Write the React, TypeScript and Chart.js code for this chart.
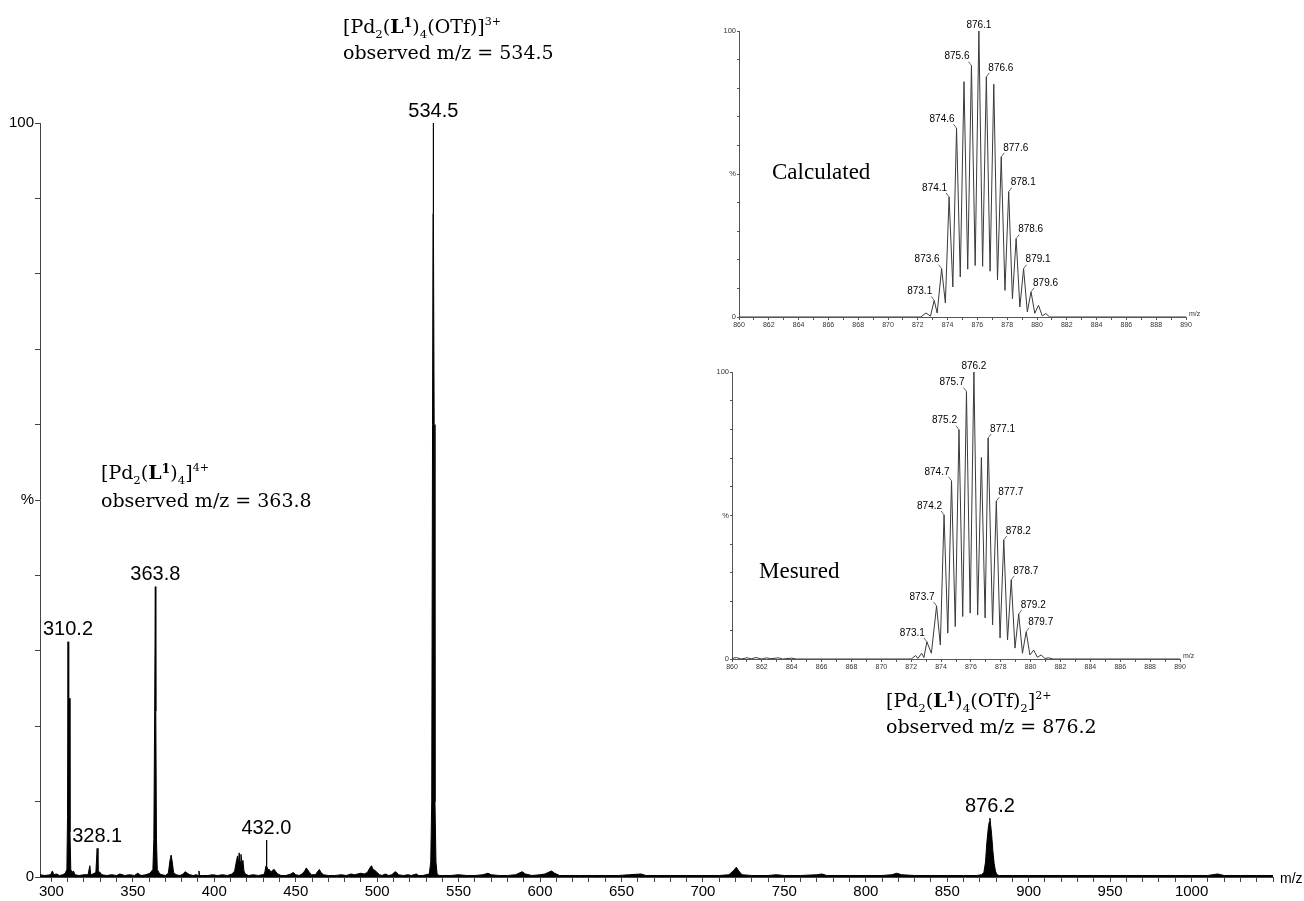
import React, { useEffect, useRef } from 'react';
import { Chart, registerables } from 'chart.js';

Chart.register(...registerables);
Chart.defaults.font.family = '"Liberation Sans", Arial, sans-serif';

// ---------------- main spectrum ----------------
const mainMz = [
  293, 296, 299.5, 300.6, 301.5, 303, 305, 307, 308.5, 309.5,
  309.9, 310.2, 310.45, 310.8, 311.05, 311.4, 311.9, 312.6, 313.5, 314.5,
  317, 320, 322.5, 323.6, 324.2, 325.5, 327.3, 328.1, 328.6, 329.5,
  331, 334, 337, 340, 342, 345, 348, 351, 353, 355,
  358, 360.5, 362.3, 362.9, 363.4, 363.8, 364.1, 364.5, 365, 366.5,
  368, 370, 371.8, 372.8, 373.5, 374.2, 375, 376.5, 379, 381,
  382, 383.5, 385, 387, 389, 390.2, 390.6, 391, 393, 396,
  399, 402, 405, 408, 411, 412.5, 413.5, 414.3, 414.8, 415.3,
  415.8, 416.4, 417, 417.6, 418.2, 419, 421, 424, 427, 429.5,
  430.8, 431.8, 432.0, 432.3, 432.8, 433.8, 434.8, 435.8, 436.8, 437.8,
  439, 441, 444, 447, 448.5, 450, 452, 454, 455.5, 456.5,
  457.5, 458.5, 459.5, 462, 464.5, 465.5, 467, 470, 474, 478,
  481, 484, 486, 488, 490, 492, 494, 495.5, 496.5, 497.5,
  498.5, 500, 501.5, 503, 505, 507, 509, 511, 512, 513,
  516, 519, 521, 524, 525.5, 528, 530, 532, 532.9, 533.5,
  534.0, 534.3, 534.45, 534.6, 535.0, 535.5, 536.1, 536.8, 538, 540,
  545, 550, 555, 560, 565, 568, 570, 575, 580, 585,
  589, 591, 595, 600, 603, 605, 607, 609, 612, 618,
  625, 632, 640, 648, 655, 662, 665, 672, 680, 690,
  700, 710, 716, 719, 720.5, 722, 724, 730, 740, 745,
  750, 760, 770, 773, 776, 790, 800, 810, 816, 819,
  822, 830, 840, 850, 860, 868, 871, 872.5, 873.5, 874.3,
  875.2, 875.8, 876.2, 876.6, 877.2, 878, 878.8, 879.6, 880.5, 882,
  890, 900, 910, 920, 930, 940, 950, 960, 970, 980,
  990, 1000, 1010, 1016, 1020, 1030, 1040, 1050,
];
const mainIntensity = [
  0.3, 0.2, 0.3, 0.8, 0.3, 0.4, 0.2, 0.3, 0.5, 1,
  8, 31.2, 10, 20, 23.7, 6, 1, 0.6, 0.8, 0.3,
  0.2, 0.3, 0.3, 1.5, 0.3, 0.4, 0.6, 3.8, 0.5, 0.7,
  0.3, 0.2, 0.3, 0.2, 0.4, 0.2, 0.3, 0.2, 0.5, 0.2,
  0.3, 0.5, 1, 5, 22, 38.5, 22, 5, 1, 0.4,
  0.3, 0.2, 0.5, 2.2, 2.9, 2.0, 0.6, 0.3, 0.2, 0.4,
  0.7, 0.5, 0.3, 0.2, 0.3, 0.2, 0.8, 0.2, 0.2, 0.2,
  0.3, 0.2, 0.3, 0.2, 0.4, 0.8, 2.0, 2.8, 1.6, 3.2,
  2.0, 3.0, 1.5, 2.2, 0.8, 0.4, 0.2, 0.3, 0.2, 0.3,
  0.4, 1.5, 4.9, 1.5, 1.0, 1.0, 0.6, 0.9, 1.0, 0.7,
  0.4, 0.2, 0.2, 0.4, 0.6, 0.3, 0.2, 0.4, 0.8, 1.2,
  0.9, 0.6, 0.3, 0.3, 1.0, 0.6, 0.3, 0.2, 0.2, 0.3,
  0.2, 0.4, 0.3, 0.4, 0.5, 0.4, 0.6, 1.2, 1.5, 1.0,
  0.9, 0.6, 0.3, 0.2, 0.4, 0.2, 0.3, 0.7, 0.6, 0.3,
  0.2, 0.3, 0.2, 0.4, 0.2, 0.2, 0.3, 0.4, 2, 10,
  60, 88, 100, 88, 60, 10, 2, 0.4, 0.2, 0.2,
  0.2, 0.3, 0.2, 0.2, 0.3, 0.5, 0.3, 0.2, 0.2, 0.3,
  0.7, 0.4, 0.2, 0.3, 0.4, 0.6, 0.8, 0.5, 0.2, 0.2,
  0.2, 0.2, 0.2, 0.2, 0.3, 0.4, 0.2, 0.2, 0.2, 0.2,
  0.2, 0.2, 0.3, 0.9, 1.3, 0.8, 0.3, 0.2, 0.2, 0.3,
  0.2, 0.2, 0.3, 0.4, 0.2, 0.2, 0.2, 0.2, 0.3, 0.5,
  0.3, 0.2, 0.2, 0.2, 0.2, 0.2, 0.3, 0.6, 2, 4.5,
  6.5, 7.3, 7.8, 7.0, 5.8, 3.5, 1.8, 0.8, 0.3, 0.2,
  0.2, 0.2, 0.2, 0.2, 0.2, 0.2, 0.2, 0.2, 0.2, 0.2,
  0.2, 0.2, 0.2, 0.4, 0.2, 0.2, 0.2, 0.2,
];
const mainPeakLabels = [310.2, 328.1, 363.8, 432.0, 534.5, 876.2];
const mainXTickLabels = [300, 350, 400, 450, 500, 550, 600, 650, 700, 750, 800, 850, 900, 950, 1000];
const mainXMin = 293;
const mainXMax = 1050;

// ---------------- calculated isotope pattern ----------------
const calcMz = [
  860, 872.2, 872.55, 872.85, 873.1, 873.3, 873.6, 873.85, 874.1, 874.35,
  874.6, 874.85, 875.1, 875.35, 875.6, 875.85, 876.1, 876.35, 876.6, 876.85,
  877.1, 877.35, 877.6, 877.85, 878.1, 878.35, 878.6, 878.85, 879.1, 879.35,
  879.6, 879.85, 880.1, 880.35, 880.6, 880.85, 890,
];
const calcIntensity = [
  0, 0, 1.4, 0.3, 5.8, 1.4, 16.9, 4.9, 42, 10.5,
  66, 14, 82.3, 16.7, 87.9, 18, 100, 17.7, 84, 16,
  81.4, 13, 56, 9.3, 43.8, 6.4, 27.4, 3.5, 16.9, 1.8,
  8.8, 1.3, 4.1, 0.4, 1.2, 0, 0,
];
const calcPeakLabels = [873.1, 873.6, 874.1, 874.6, 875.6, 876.1, 876.6, 877.6, 878.1, 878.6, 879.1, 879.6];

// ---------------- measured isotope pattern ----------------
const measMz = [
  860, 860.3, 860.6, 861, 861.3, 861.6, 862, 862.3, 862.6, 863.1,
  863.4, 864, 864.3, 872, 872.3, 872.45, 872.7, 872.85, 873.05, 873.35,
  873.7, 873.95, 874.2, 874.45, 874.7, 874.95, 875.2, 875.45, 875.7, 875.95,
  876.2, 876.45, 876.7, 876.95, 877.15, 877.45, 877.7, 877.95, 878.2, 878.45,
  878.7, 878.95, 879.2, 879.45, 879.7, 879.95, 880.2, 880.45, 880.7, 880.95,
  881.2, 881.5, 890,
];
const measIntensity = [
  0.2, 0.5, 0, 0.4, 0.1, 0.5, 0, 0.4, 0.1, 0.4,
  0, 0.3, 0, 0, 1.2, 0.2, 2.0, 0.5, 6.0, 2.0,
  18.5, 4.9, 50.2, 9, 62.1, 11.3, 79.9, 14.8, 93.2, 16,
  100, 15.3, 70.2, 14.3, 77, 11.9, 55, 7.3, 41.5, 6.6,
  27.6, 3.8, 15.7, 2, 9.5, 1.4, 3.1, 0.6, 1.4, 0.2,
  0.4, 0, 0,
];
const measPeakLabels = [873.1, 873.7, 874.2, 874.7, 875.2, 875.7, 876.2, 877.1, 877.7, 878.2, 878.7, 879.2, 879.7];
const insetXTickLabels = [860, 862, 864, 866, 868, 870, 872, 874, 876, 878, 880, 882, 884, 886, 888, 890];

// ---------------- annotations ----------------
type Seg = [string, 'n' | 'sub' | 'sup' | 'b' | 'bsup'];
const formula534: Seg[] = [['[Pd', 'n'], ['2', 'sub'], ['(', 'n'], ['L', 'b'], ['1', 'bsup'], [')', 'n'], ['4', 'sub'], ['(OTf)]', 'n'], ['3+', 'sup']];
const formula363: Seg[] = [['[Pd', 'n'], ['2', 'sub'], ['(', 'n'], ['L', 'b'], ['1', 'bsup'], [')', 'n'], ['4', 'sub'], [']', 'n'], ['4+', 'sup']];
const formula876: Seg[] = [['[Pd', 'n'], ['2', 'sub'], ['(', 'n'], ['L', 'b'], ['1', 'bsup'], [')', 'n'], ['4', 'sub'], ['(OTf)', 'n'], ['2', 'sub'], [']', 'n'], ['2+', 'sup']];
const observed534 = 'observed m/z = 534.5';
const observed363 = 'observed m/z = 363.8';
const observed876 = 'observed m/z = 876.2';

const SANS = '"Liberation Sans", Arial, sans-serif';
const SERIF = '"DejaVu Serif", serif';
const TIMES = '"Liberation Serif", "Times New Roman", serif';

function drawFormula(ctx: CanvasRenderingContext2D, segs: Seg[], x: number, y: number, size: number) {
  let cx = x;
  ctx.textAlign = 'left';
  ctx.textBaseline = 'alphabetic';
  for (const [t, s] of segs) {
    let f = size;
    let dy = 0;
    let w = '';
    if (s === 'sub') { f = size * 0.62; dy = size * 0.25; }
    if (s === 'sup') { f = size * 0.58; dy = -size * 0.42; }
    if (s === 'b') { w = 'bold '; }
    if (s === 'bsup') { w = 'bold '; f = size * 0.66; dy = -size * 0.3; }
    ctx.font = `${w}${f}px ${SERIF}`;
    ctx.fillText(t, cx, y + dy);
    cx += ctx.measureText(t).width;
  }
}

function peakNear(mz: number[], it: number[], target: number, win: number) {
  let best = -1;
  let bm = target;
  mz.forEach((m, i) => {
    if (Math.abs(m - target) <= win && it[i] > best) { best = it[i]; bm = m; }
  });
  return { m: bm, v: Math.max(best, 0) };
}

const mainDecor = {
  id: 'mainDecor',
  afterDatasetsDraw(chart: any) {
    const { ctx, chartArea } = chart;
    const xs = chart.scales.x;
    const ys = chart.scales.y;
    ctx.save();
    ctx.fillStyle = '#000';
    ctx.font = `20px ${SANS}`;
    ctx.textAlign = 'center';
    ctx.textBaseline = 'middle';
    mainPeakLabels.forEach((l) => {
      const p = peakNear(mainMz, mainIntensity, l, 0.5);
      ctx.fillText(l.toFixed(1), xs.getPixelForValue(l), ys.getPixelForValue(p.v) - 12);
    });
    ctx.font = `14px ${SANS}`;
    ctx.textAlign = 'left';
    ctx.fillText('m/z', chartArea.right + 7, chartArea.bottom + 2);

    const fs = 19;
    drawFormula(ctx, formula534, 343, 33, fs);
    ctx.font = `${fs}px ${SERIF}`;
    ctx.fillText(observed534, 343, 59);
    drawFormula(ctx, formula363, 101, 479, fs);
    ctx.font = `${fs}px ${SERIF}`;
    ctx.fillText(observed363, 101, 507);
    drawFormula(ctx, formula876, 886, 707, fs);
    ctx.font = `${fs}px ${SERIF}`;
    ctx.fillText(observed876, 886, 733);
    ctx.restore();
  },
};

function makeInsetDecor(mz: number[], it: number[], labels: number[], title: string, tx: number, ty: number) {
  return {
    id: 'insetDecor',
    afterDatasetsDraw(chart: any) {
      const { ctx, chartArea } = chart;
      const xs = chart.scales.x;
      const ys = chart.scales.y;
      ctx.save();
      const peaks = labels.map((l) => peakNear(mz, it, l, 0.15));
      let topK = 0;
      peaks.forEach((p, k) => { if (p.v > peaks[topK].v) topK = k; });
      ctx.font = `10px ${SANS}`;
      ctx.fillStyle = '#000';
      ctx.strokeStyle = '#444';
      ctx.lineWidth = 0.8;
      labels.forEach((l, k) => {
        const px = xs.getPixelForValue(peaks[k].m);
        const py = ys.getPixelForValue(peaks[k].v);
        const txt = l.toFixed(1);
        if (k === topK) {
          ctx.textAlign = 'center';
          ctx.textBaseline = 'bottom';
          ctx.fillText(txt, px, py - 1);
          return;
        }
        const dir = k < topK ? -1 : 1;
        ctx.textAlign = dir < 0 ? 'right' : 'left';
        ctx.textBaseline = 'middle';
        ctx.fillText(txt, px + dir * 2, py - 9);
        ctx.beginPath();
        ctx.moveTo(px + dir * 3, py - 4);
        ctx.lineTo(px, py);
        ctx.stroke();
      });
      ctx.font = `7px ${SANS}`;
      ctx.textAlign = 'left';
      ctx.textBaseline = 'bottom';
      ctx.fillStyle = '#333';
      ctx.fillText('m/z', chartArea.right + 3, chartArea.bottom + 1);
      ctx.font = `23px ${TIMES}`;
      ctx.fillStyle = '#000';
      ctx.textBaseline = 'middle';
      ctx.fillText(title, tx, ty);
      ctx.restore();
    },
  };
}

function insetConfig(mz: number[], it: number[], labels: number[], title: string, tx: number, ty: number, rightPad: number, xH: number) {
  const minor: number[] = [];
  for (let v = insetXTickLabels[0]; v <= insetXTickLabels[insetXTickLabels.length - 1]; v += 1) minor.push(v);
  return {
    type: 'line' as const,
    data: {
      datasets: [{
        data: mz.map((x, i) => ({ x, y: it[i] })),
        borderColor: '#3a3a3a',
        borderWidth: 1,
        pointRadius: 0,
        fill: false,
        tension: 0,
      }],
    },
    options: {
      responsive: false,
      animation: false as const,
      events: [],
      layout: { padding: { top: 16, right: rightPad, left: 0, bottom: 0 } },
      plugins: { legend: { display: false }, tooltip: { enabled: false } },
      scales: {
        x: {
          type: 'linear' as const,
          min: insetXTickLabels[0],
          max: insetXTickLabels[insetXTickLabels.length - 1],
          afterBuildTicks: (axis: any) => { axis.ticks = minor.map((v) => ({ value: v })); },
          afterFit: (axis: any) => { axis.height = xH; },
          grid: { drawOnChartArea: false, tickLength: 3, color: '#555' },
          border: { color: '#555', width: 1 },
          ticks: {
            autoSkip: false, maxRotation: 0, padding: 1, color: '#333', font: { size: 7 },
            callback: (v: any) => (insetXTickLabels.includes(v) ? String(v) : ''),
          },
        },
        y: {
          min: 0, max: 100,
          afterFit: (axis: any) => { axis.width = 39; },
          grid: { drawOnChartArea: false, tickLength: 2, color: '#555' },
          border: { color: '#555', width: 1 },
          ticks: {
            stepSize: 10, padding: 1, color: '#333', font: { size: 7.5 },
            callback: (v: any) => (v === 100 ? '100' : v === 50 ? '%' : v === 0 ? '0' : ''),
          },
        },
      },
    },
    plugins: [makeInsetDecor(mz, it, labels, title, tx, ty)],
  };
}

export default function App() {
  const mainRef = useRef<HTMLCanvasElement>(null);
  const calcRef = useRef<HTMLCanvasElement>(null);
  const measRef = useRef<HTMLCanvasElement>(null);

  useEffect(() => {
    const ticks: number[] = [];
    for (let v = 300; v <= mainXMax; v += 10) ticks.push(v);
    const main = new Chart(mainRef.current!, {
      type: 'line',
      data: {
        datasets: [{
          data: mainMz.map((x, i) => ({ x, y: mainIntensity[i] })),
          borderColor: '#000',
          backgroundColor: '#000',
          borderWidth: 1,
          pointRadius: 0,
          fill: 'origin',
          tension: 0,
        }],
      },
      options: {
        responsive: false,
        animation: false,
        events: [],
        layout: { padding: { top: 123, right: 31, left: 0, bottom: 0 } },
        plugins: { legend: { display: false }, tooltip: { enabled: false } },
        scales: {
          x: {
            type: 'linear',
            min: mainXMin,
            max: mainXMax,
            afterBuildTicks: (axis: any) => { axis.ticks = ticks.map((v) => ({ value: v })); },
            afterFit: (axis: any) => { axis.height = 24; },
            grid: { drawOnChartArea: false, tickLength: 5, color: '#444' },
            border: { color: '#444', width: 1 },
            ticks: {
              autoSkip: false, maxRotation: 0, padding: 1, color: '#000', font: { size: 15 },
              callback: (v: any) => (mainXTickLabels.includes(v) ? String(v) : ''),
            },
          },
          y: {
            min: 0, max: 100,
            afterFit: (axis: any) => { axis.width = 40; },
            grid: { drawOnChartArea: false, tickLength: 5, color: '#444' },
            border: { color: '#444', width: 1 },
            ticks: {
              stepSize: 10, padding: 1, color: '#000', font: { size: 15 },
              callback: (v: any) => (v === 100 ? '100' : v === 50 ? '%' : v === 0 ? '0' : ''),
            },
          },
        },
      },
      plugins: [mainDecor],
    } as any);
    const calc = new Chart(calcRef.current!, insetConfig(calcMz, calcIntensity, calcPeakLabels, 'Calculated', 72, 158, 34, 18) as any);
    const meas = new Chart(measRef.current!, insetConfig(measMz, measIntensity, measPeakLabels, 'Mesured', 66, 216, 33, 17) as any);
    return () => { main.destroy(); calc.destroy(); meas.destroy(); };
  }, []);

  return (
    <div style={{ position: 'absolute', left: 0, top: 0, width: 1304, height: 901, background: '#fff', overflow: 'hidden' }}>
      <canvas ref={mainRef} width={1304} height={901} style={{ position: 'absolute', left: 0, top: 0 }} />
      <canvas ref={calcRef} width={520} height={320} style={{ position: 'absolute', left: 700, top: 15 }} />
      <canvas ref={measRef} width={520} height={320} style={{ position: 'absolute', left: 693, top: 356 }} />
    </div>
  );
}
